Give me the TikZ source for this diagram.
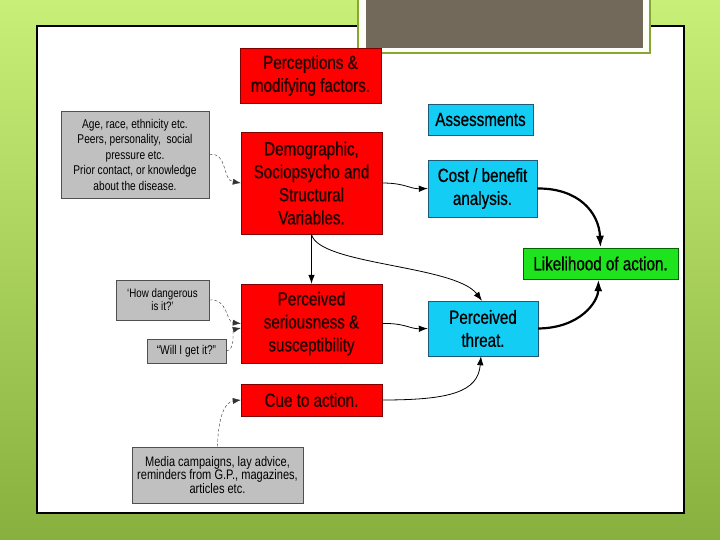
\documentclass[tikz,border=0pt]{standalone}
\usepackage{fontspec}
\usetikzlibrary{arrows.meta}
\setsansfont{Liberation Sans}[FakeStretch=0.8]
\newfontfamily\boxfont{Liberation Sans}[FakeStretch=0.8, FakeBold=0.7]
\definecolor{bgtop}{RGB}{200,240,120}
\definecolor{bgbot}{RGB}{136,176,62}
\definecolor{redfill}{RGB}{255,0,0}
\definecolor{redline}{RGB}{130,0,0}
\definecolor{redtext}{RGB}{35,0,0}
\definecolor{cyanfill}{RGB}{20,205,245}
\definecolor{cyanline}{RGB}{30,90,120}
\definecolor{greenfill}{RGB}{30,228,30}
\definecolor{greenline}{RGB}{0,100,0}
\definecolor{grayfill}{RGB}{192,192,192}
\definecolor{grayline}{RGB}{80,80,80}
\definecolor{titlefill}{RGB}{114,105,90}
\definecolor{titleline}{RGB}{134,168,50}

\begin{document}
\begin{tikzpicture}[>={Latex[length=9pt,width=6.5pt]}, font=\sffamily, x=1pt, y=-1pt]
  \tikzstyle{big}=[font=\boxfont\fontsize{19}{23}\selectfont]
  \tikzstyle{redbox}=[big, draw=redline, fill=redfill, text=redtext, inner sep=0pt, align=center]
  \tikzstyle{cyanbox}=[big, draw=cyanline, fill=cyanfill, text=black, inner sep=0pt, align=center]
  \tikzstyle{greenbox}=[big, draw=greenline, fill=greenfill, text=black, inner sep=0pt, align=center]
  \tikzstyle{graybox}=[draw=grayline, fill=grayfill, text=black, inner sep=0pt, align=center, line width=0.8pt]
  \tikzstyle{link}=[->, line width=0.8pt]
  \tikzstyle{heavylink}=[-{Latex[length=12pt,width=8pt]}, line width=2.2pt]
  \tikzstyle{notelink}=[-{Latex[length=8pt,width=6pt]}, thin, densely dashed, black!80]

  % --- slide background ---
  \useasboundingbox (0,0) rectangle (720,540);
  \shade[top color=bgtop, bottom color=bgbot] (0,0) rectangle (720,540);
  \draw[fill=white, line width=1.2pt] (37,26) rectangle (684,513);
  \draw[draw=titleline, fill=white!94!bgtop, line width=1.5pt] (358,-3) rectangle (650,53);
  \fill[titlefill] (366,-3) rectangle (643,48);

  % --- left column: perceptions ---
  \node[redbox, minimum width=141pt, minimum height=55pt] (perc) at (310.5,75.5)
    {Perceptions \&\\modifying factors.};
  \node[redbox, minimum width=141pt, minimum height=102pt] (demo) at (311.5,183)
    {Demographic,\\Sociopsycho and\\Structural\\Variables.};
  \node[redbox, minimum width=141pt, minimum height=79pt] (seri) at (311.5,323.5)
    {Perceived\\seriousness \&\\susceptibility};
  \node[redbox, minimum width=141pt, minimum height=32pt] (cue) at (311.5,400)
    {Cue to action.};

  % --- notes (grey) ---
  \node[graybox, font=\sffamily\fontsize{12.7}{15.5}\selectfont,
        minimum width=148pt, minimum height=87pt] (age) at (135,154.5)
    {Age, race, ethnicity etc.\\Peers, personality,\ \ social\\pressure etc.\\Prior contact, or knowledge\\about the disease.};
  \node[graybox, font=\sffamily\fontsize{12.2}{13}\selectfont,
        minimum width=93pt, minimum height=40pt] (dang) at (162.5,300)
    {‘How dangerous\\is it?’};
  \node[graybox, font=\sffamily\fontsize{12.7}{14}\selectfont,
        minimum width=79pt, minimum height=24pt] (will) at (186.5,351)
    {“Will I get it?”};
  \node[graybox, font=\sffamily\fontsize{13.8}{13.5}\selectfont,
        minimum width=171pt, minimum height=56pt] (media) at (217.5,475)
    {Media campaigns, lay advice,\\reminders from G.P., magazines,\\articles etc.};

  % --- right column: assessments ---
  \node[cyanbox, minimum width=105pt, minimum height=31pt] (assess) at (480.5,119.5)
    {Assessments};
  \node[cyanbox, minimum width=109pt, minimum height=57pt] (cost) at (482.5,188.5)
    {Cost / benefit\\analysis.};
  \node[cyanbox, minimum width=110pt, minimum height=55pt] (threat) at (483,328.5)
    {Perceived\\threat.};
  \node[greenbox, minimum width=155pt, minimum height=31pt] (like) at (600.5,263.5)
    {Likelihood of action.};

  % --- note links ---
  \draw[notelink] (age.east) .. controls (228,152) and (222,180) .. (demo.west);
  \draw[notelink] (dang.east) .. controls (228,298) and (226,322) .. (seri.west);
  \draw[notelink] (will.east) .. controls (236,350) and (232,330) .. ([yshift=-4.5pt]seri.west);
  \draw[notelink] (media.north) .. controls (218,420) and (224,402) .. (cue.west);

  % --- main links ---
  \draw[link] (demo.south) -- (seri.north);
  \draw[link] (demo.south) .. controls (318,265) and (455,265) .. ([xshift=-1pt]threat.north);
  \draw[link] (demo.east) .. controls (405,183) and (410,189) .. (cost.west);
  \draw[link] (seri.east) .. controls (405,323) and (410,329) .. (threat.west);
  \draw[link] (cue.east) .. controls (450,400) and (478,392) .. ([xshift=-2pt]threat.south);
  \draw[heavylink] (cost.east) .. controls (578,188) and (599,212) .. (like.north);
  \draw[heavylink] (threat.east) .. controls (580,328) and (598,302) .. ([xshift=-2pt]like.south);
\end{tikzpicture}
\end{document}
